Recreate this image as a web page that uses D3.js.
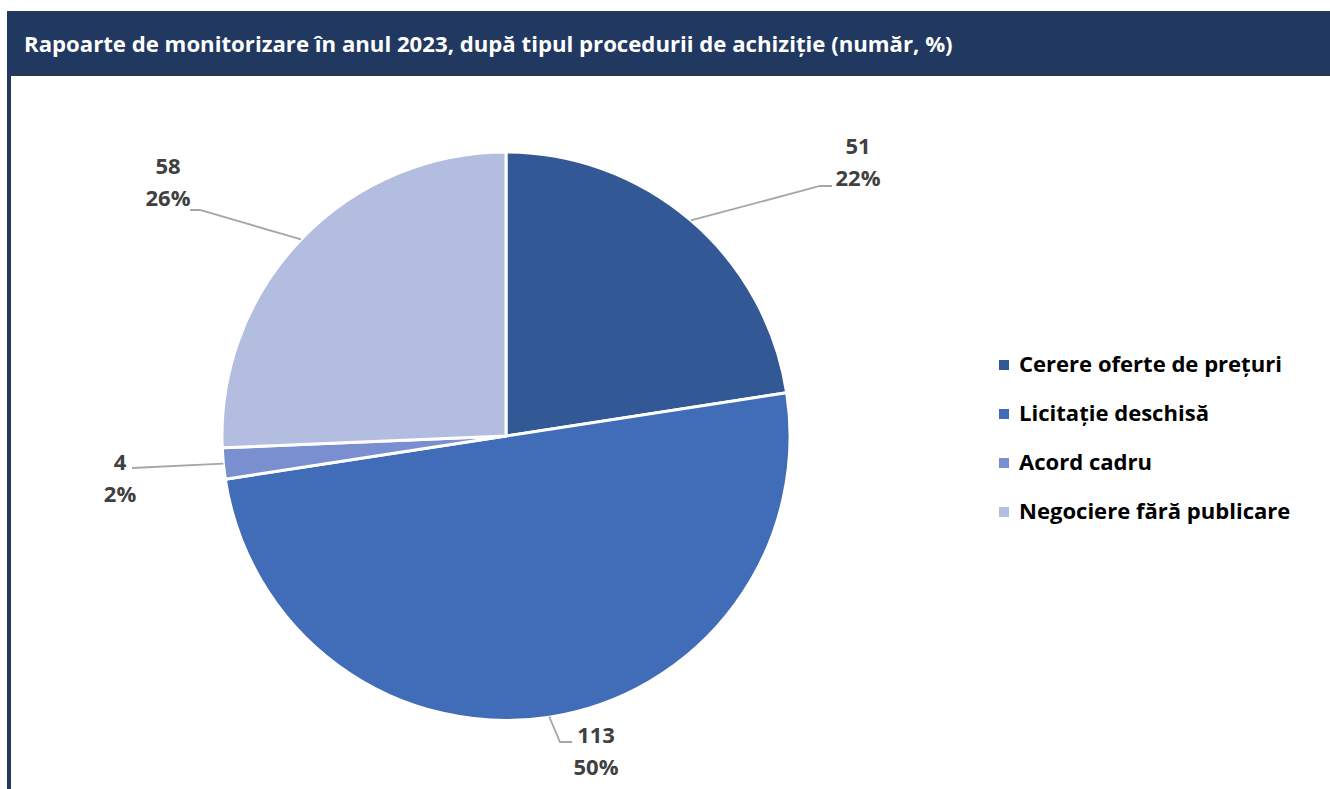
<!DOCTYPE html>
<html><head><meta charset="utf-8">
<script src="https://cdn.jsdelivr.net/npm/d3@7"></script>
<style>body{margin:0;background:#fff}svg{display:block}</style>
</head><body>
<svg id="c" width="1330" height="789"></svg>
<script>
const title = "Rapoarte de monitorizare în anul 2023, după tipul procedurii de achiziție (număr, %)";
const categories = ["Cerere oferte de prețuri","Licitație deschisă","Acord cadru","Negociere fără publicare"];
const values = [51, 113, 4, 58];
const percentLabels = ["22%","50%","2%","26%"];
const colors = ["#325896","#406CB8","#7A8FD0","#B3BDDF"];

const svg = d3.select("#c");
const font = "'Open Sans', Lato, sans-serif";

function fit(sel, target){
  const w = sel.node().getComputedTextLength();
  const fs = +sel.attr("font-size");
  sel.attr("font-size", (fs*target/w).toFixed(2));
  return fs*target/w;
}

// frame
svg.append("rect").attr("x",7).attr("y",11).attr("width",1323).attr("height",65).attr("fill","#213861");
svg.append("rect").attr("x",7).attr("y",74).attr("width",1323).attr("height",2).attr("fill","#2a3556");
svg.append("rect").attr("x",7).attr("y",11).attr("width",4).attr("height",778).attr("fill","#213861");
const tt = svg.append("text").attr("x",24).attr("y",52).attr("fill","#fff")
  .attr("font-family",font).attr("font-weight","bold").attr("font-size",20).text(title);
fit(tt, 929);

const cx = 506, cy = 436, R = 284;
const pie = d3.pie().sort(null).value(d=>d)(values);
const arc = d3.arc().innerRadius(0).outerRadius(R);
const g = svg.append("g").attr("transform",`translate(${cx},${cy})`);
g.selectAll("path").data(pie).join("path")
  .attr("d",arc).attr("fill",(d,i)=>colors[i])
  .attr("stroke","#fff").attr("stroke-width",3).attr("stroke-linejoin","round");

// leader lines and labels
const labelPos = [
  {lx:858, ly:154, line:[[0,0],[820,186],[832,186]]},
  {lx:596, ly:743, line:[[0,0],[560,742],[572,742]]},
  {lx:120, ly:470, line:[[0,0],[132,468]]},
  {lx:168, ly:174, line:[[0,0],[200,210],[190,210]]}
];
// measure label font size from "22%" width ~45
const probe = svg.append("text").attr("font-family",font).attr("font-weight","bold").attr("font-size",20).text("22%");
const labFS = fit(probe, 45); probe.remove();
pie.forEach((d,i)=>{
  const a = (d.startAngle+d.endAngle)/2;
  const p0 = [cx + R*Math.sin(a), cy - R*Math.cos(a)];
  const pts = [p0].concat(labelPos[i].line.slice(1));
  svg.append("path").attr("d",d3.line()(pts)).attr("fill","none")
    .attr("stroke","#A6A6A6").attr("stroke-width",1.8);
  const t = svg.append("text").attr("text-anchor","middle").attr("fill","#404040")
    .attr("font-family",font).attr("font-weight","bold").attr("font-size",labFS);
  t.append("tspan").attr("x",labelPos[i].lx).attr("y",labelPos[i].ly).text(values[i]);
  t.append("tspan").attr("x",labelPos[i].lx).attr("y",labelPos[i].ly+32).text(percentLabels[i]);
});

// legend
const lg = svg.append("g");
const probe2 = svg.append("text").attr("font-family",font).attr("font-weight","bold").attr("font-size",20).text(categories[0]);
const legFS = fit(probe2, 263); probe2.remove();
categories.forEach((c,i)=>{
  const y = 365 + i*49;
  lg.append("rect").attr("x",999).attr("y",y-5).attr("width",10).attr("height",10).attr("fill",colors[i]);
  lg.append("text").attr("x",1019).attr("y",y+7).attr("fill","#000")
    .attr("font-family",font).attr("font-weight","bold").attr("font-size",legFS).text(c);
});
</script>
</body></html>
